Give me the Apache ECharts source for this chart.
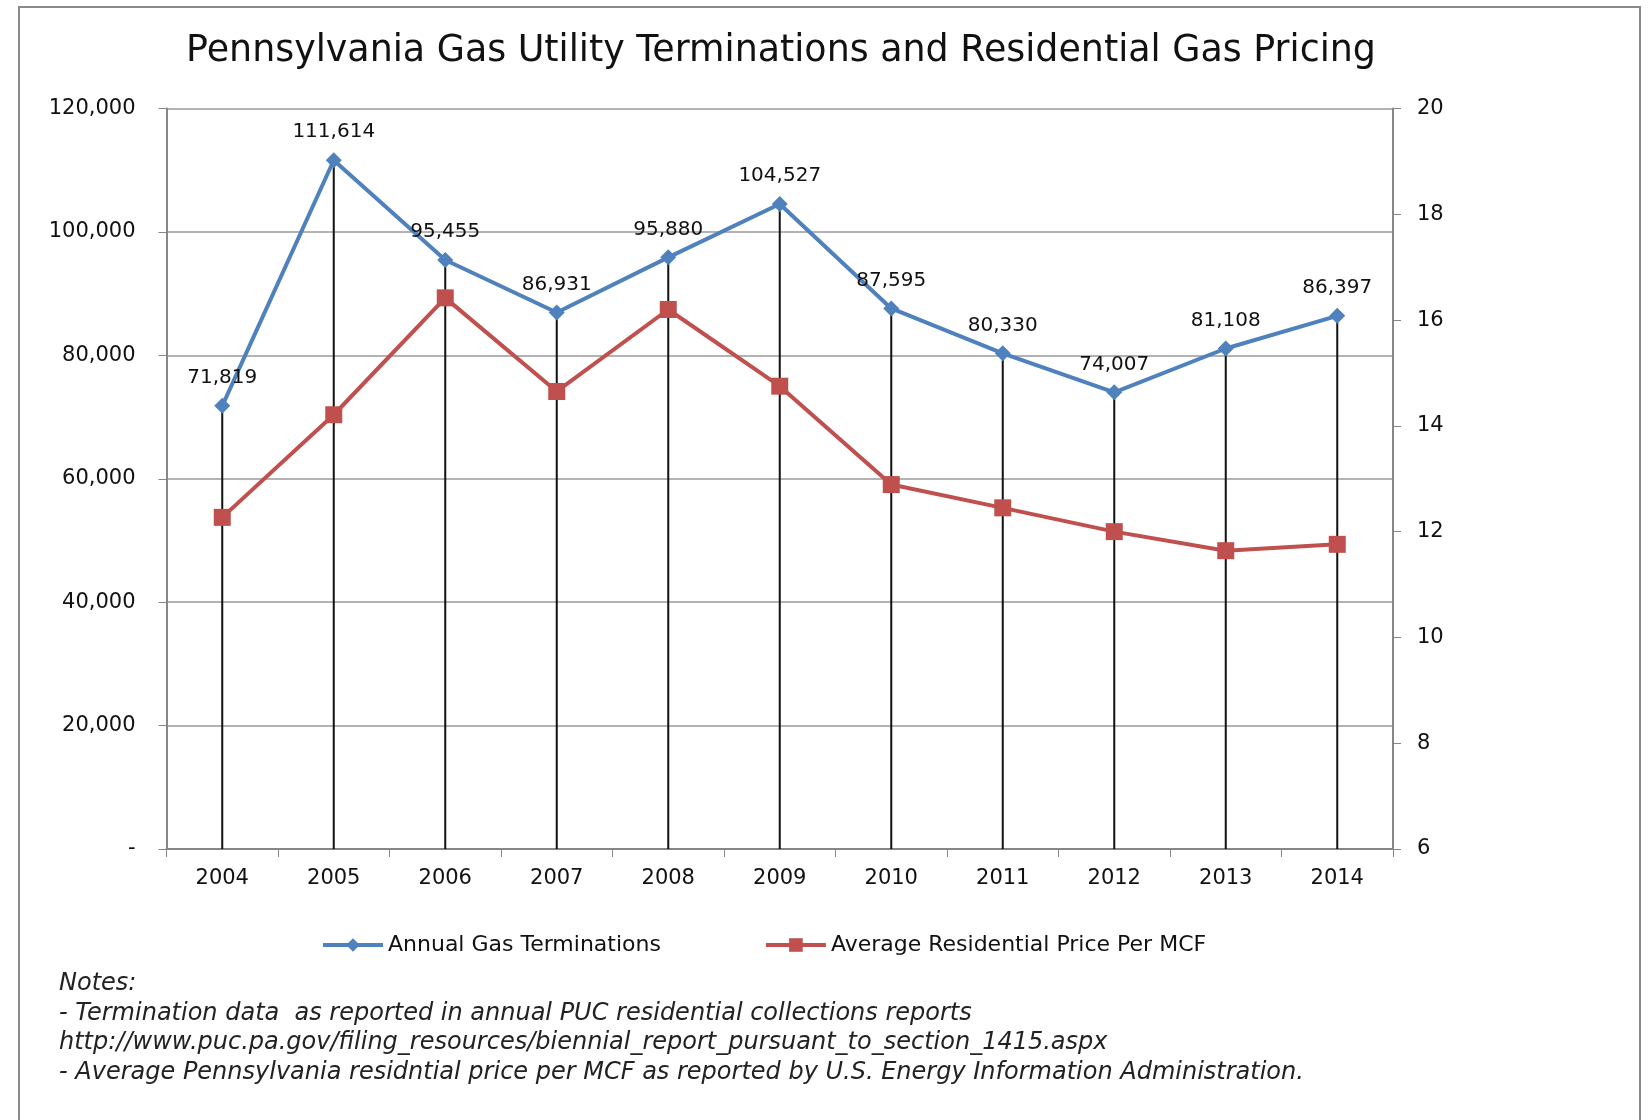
<!DOCTYPE html>
<html>
<head>
<meta charset="utf-8">
<script src="https://cdn.jsdelivr.net/npm/echarts@6/dist/echarts.min.js"></script>
<style>html,body{margin:0;padding:0;background:#fff}#c{width:1652px;height:1120px}</style>
</head>
<body>
<div id="c"></div>
<script>
const years = ['2004','2005','2006','2007','2008','2009','2010','2011','2012','2013','2014'];
const terminations = [71819, 111614, 95455, 86931, 95880, 104527, 87595, 80330, 74007, 81108, 86397];
const pricePerMCF = [12.27, 14.21, 16.42, 14.65, 16.2, 14.75, 12.89, 12.45, 12.0, 11.64, 11.76];
const leftTicks = {min: 0, max: 120000, interval: 20000};
const rightTicks = {min: 6, max: 20, interval: 2};
const notes = [
  'Notes:',
  '- Termination data  as reported in annual PUC residential collections reports',
  'http://www.puc.pa.gov/filing_resources/biennial_report_pursuant_to_section_1415.aspx',
  '- Average Pennsylvania residntial price per MCF as reported by U.S. Energy Information Administration.'
];
const FONT = 'DejaVu Sans';
const chart = echarts.init(document.getElementById('c'));
const fmt = v => v === 0 ? '-' : v.toLocaleString('en-US');
const noteTitles = notes.map((t, i) => ({
  text: t, left: 54, top: 967 + i * 29.5,
  textStyle: {fontFamily: FONT, fontSize: 24, fontStyle: 'italic', fontWeight: 'normal', color: '#222'}
}));
chart.setOption({
  animation: false,
  backgroundColor: '#fff',
  title: [{
    text: 'Pennsylvania Gas Utility Terminations and Residential Gas Pricing',
    left: 776, top: 29, textAlign: 'center',
    textStyle: {fontFamily: FONT, fontSize: 36.4, fontWeight: 'normal', color: '#111'}
  }].concat(noteTitles),
  graphic: [{
    type: 'rect', shape: {x: 19, y: 7, width: 1621, height: 1300},
    style: {fill: 'none', stroke: '#8a8a8a', lineWidth: 2}, silent: true
  }],
  legend: {
    data: ['Annual Gas Terminations', 'Average Residential Price Per MCF'],
    left: 316, top: 929, itemWidth: 60, itemHeight: 17, itemGap: 103,
    lineStyle: {width: 4},
    textStyle: {fontFamily: FONT, fontSize: 22, color: '#111'}
  },
  grid: {left: 166.5, right: 259, top: 108.5, bottom: 271, containLabel: false},
  xAxis: {
    type: 'category', data: years, boundaryGap: true,
    axisLine: {lineStyle: {color: '#868686', width: 2}},
    axisTick: {show: true, alignWithLabel: false, length: 8, lineStyle: {color: '#868686'}},
    axisLabel: {fontFamily: FONT, fontSize: 21, color: '#111', margin: 19}
  },
  yAxis: [{
    type: 'value', min: leftTicks.min, max: leftTicks.max, interval: leftTicks.interval,
    axisLine: {show: true, lineStyle: {color: '#868686', width: 2}},
    axisTick: {show: true, length: 8, lineStyle: {color: '#868686'}},
    splitLine: {show: true, lineStyle: {color: '#9a9a9a', width: 1.5}},
    axisLabel: {fontFamily: FONT, fontSize: 21, color: '#111', margin: 31, formatter: fmt}
  }, {
    type: 'value', min: rightTicks.min, max: rightTicks.max, interval: rightTicks.interval,
    position: 'right',
    axisLine: {show: true, lineStyle: {color: '#868686', width: 2}},
    axisTick: {show: true, length: 8, lineStyle: {color: '#868686'}},
    splitLine: {show: false},
    axisLabel: {fontFamily: FONT, fontSize: 21, color: '#111', margin: 24}
  }],
  series: [{
    name: 'drop', type: 'bar', yAxisIndex: 0, data: terminations,
    barWidth: 2, itemStyle: {color: '#111'}, silent: true, z: 1
  }, {
    name: 'Average Residential Price Per MCF', type: 'line', yAxisIndex: 1, data: pricePerMCF,
    symbol: 'rect', symbolSize: 17,
    lineStyle: {color: '#C0504D', width: 4},
    itemStyle: {color: '#C0504D'}, z: 3
  }, {
    name: 'Annual Gas Terminations', type: 'line', yAxisIndex: 0, data: terminations,
    symbol: 'diamond', symbolSize: 16,
    lineStyle: {color: '#4F81BD', width: 4},
    itemStyle: {color: '#4F81BD'}, z: 4,
    label: {show: true, position: 'top', distance: 10, fontFamily: FONT, fontSize: 20, color: '#111',
      formatter: p => p.value.toLocaleString('en-US')}
  }]
});
</script>
</body>
</html>
